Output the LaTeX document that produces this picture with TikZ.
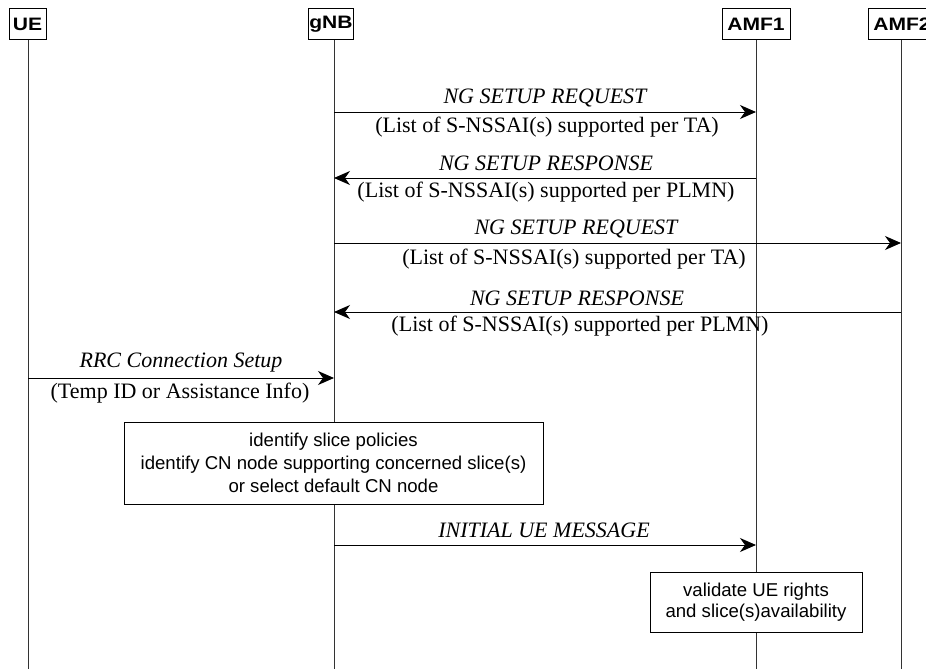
\documentclass[tikz,border=0pt]{standalone}
\usepackage{fontspec}
\setmainfont{Liberation Serif}
\newfontfamily\arialf{Liberation Sans}
\newfontfamily\arialwide[FakeStretch=1.17]{Liberation Sans}
\usetikzlibrary{arrows.meta}
\tikzset{
  entity/.style={draw=black, line width=1pt, fill=white, font=\arialwide\bfseries\fontsize{18}{20}\selectfont, inner sep=0pt, minimum height=31pt},
  lifeline/.style={line width=1pt, draw=black!80},
  msg/.style={line width=1pt, -{Stealth[length=16pt,width=14pt,inset=5pt]}},
  mlabel/.style={font=\itshape\fontsize{22}{24}\selectfont, inner sep=0pt},
  plabel/.style={font=\fontsize{22}{24}\selectfont, inner sep=0pt},
  actbox/.style={draw=black, line width=1pt, fill=white, font=\arialf\fontsize{18.6}{23}\selectfont, align=center, inner sep=0pt},
}
\begin{document}
\begin{tikzpicture}[x=1pt,y=-1pt]
\useasboundingbox (0,0) rectangle (926,669);
% lifelines
\coordinate (ueb) at (28,669);
\coordinate (gnbb) at (334,669);
\coordinate (amf1b) at (756,669);
\coordinate (amf2b) at (901,669);
\draw[lifeline] (28,40) -- (ueb);
\draw[lifeline] (334,40) -- (gnbb);
\draw[lifeline] (756,40) -- (amf1b);
\draw[lifeline] (901,40) -- (amf2b);
% entities
\node[entity, minimum width=37pt] (ue) at (27.5,24.5) {UE};
\node[entity, minimum width=45pt] (gnb) at (331,24.5) {gNB};
\node[entity, minimum width=68pt] (amf1) at (756,24.5) {AMF1};
\node[entity, minimum width=68pt] (amf2) at (902,24.5) {AMF2};
% message endpoints
\coordinate (g1) at (334,112); \coordinate (a1) at (756,112);
\coordinate (g2) at (334,178); \coordinate (a2) at (756,178);
\coordinate (g3) at (334,243); \coordinate (b3) at (901,243);
\coordinate (g4) at (334,312); \coordinate (b4) at (901,312);
\coordinate (u5) at (28,378);  \coordinate (g5) at (334,378);
\coordinate (g7) at (334,545); \coordinate (a7) at (756,545);
% messages
\draw[msg] (g1) -- (a1);
\node[mlabel] (l1a) at (545,97.5) {NG SETUP REQUEST};
\node[plabel] (l1b) at (547,127) {(List of S-NSSAI(s) supported per TA)};
\draw[msg] (a2) -- (g2);
\node[mlabel] (l2a) at (546,163) {NG SETUP RESPONSE};
\node[plabel] (l2b) at (546,192) {(List of S-NSSAI(s) supported per PLMN)};
\draw[msg] (g3) -- (b3);
\node[mlabel] (l3a) at (576,229) {NG SETUP REQUEST};
\node[plabel] (l3b) at (574,259) {(List of S-NSSAI(s) supported per TA)};
\draw[msg] (b4) -- (g4);
\node[mlabel] (l4a) at (577,298) {NG SETUP RESPONSE};
\node[plabel] (l4b) at (580,326) {(List of S-NSSAI(s) supported per PLMN)};
\draw[msg] (u5) -- (g5);
\node[mlabel] (l5a) at (181,363) {RRC Connection Setup};
\node[plabel] (l5b) at (180,393) {(Temp ID or Assistance Info)};
% action box
\node[actbox, minimum width=419pt, minimum height=82pt] (slice) at (333.5,463)
  {identify slice policies\\identify CN node supporting concerned slice(s)\\or select default CN node};
\draw[msg] (g7) -- (a7);
\node[mlabel] (l7a) at (544,530) {INITIAL UE MESSAGE};
\node[actbox, minimum width=212pt, minimum height=60pt, font=\arialf\fontsize{18.6}{21}\selectfont] (valid) at (756,602)
  {validate UE rights\\and slice(s)availability};
\end{tikzpicture}
\end{document}
